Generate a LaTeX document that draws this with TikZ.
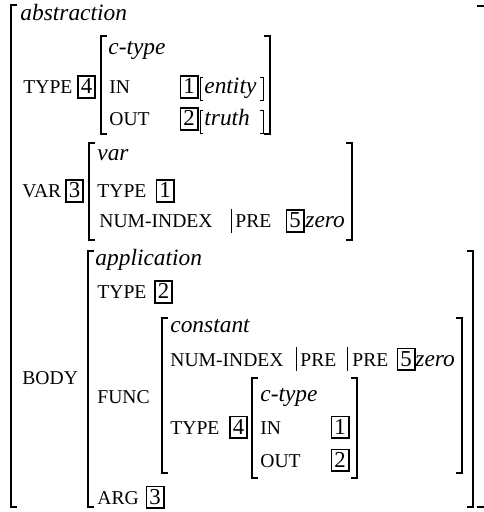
\documentclass[tikz,border=0pt]{standalone}
\usepackage{fontspec}
\setmainfont{Liberation Serif}
\usepackage{tikz}

\tikzset{
  feat/.style={anchor=base west, inner sep=0pt, font=\fontsize{9.8}{11}\selectfont},
  typ/.style={anchor=base west, inner sep=0pt, font=\fontsize{11.7}{14}\selectfont\itshape},
  tag/.style={draw, line width=0.9pt, anchor=base, inner xsep=0pt, inner ysep=0.4pt,
    minimum width=8.6pt, text height=8.4pt, text depth=1.6pt,
    font=\fontsize{11.4}{14}\selectfont},
  brak/.style={line width=0.6pt},
  thinbrak/.style={line width=0.4pt},
}

\begin{document}
\begin{tikzpicture}[x=0.5pt, y=-0.5pt]
    \useasboundingbox (0,0) rectangle (483,512);

    % Brackets: left x / right x / top / bottom
    \draw[brak] (17,5) -| (11,507) -- (17,507);
    \draw[brak] (477,6) -- (485,6);
    \draw[brak] (477,507) -- (485,507);
    \foreach \l/\r/\t/\b in {101/270/36/134, 89/352/143/240, 88/473/251/507,
                             162/462/318/473, 252/357/378/478} {
        \draw[brak] (\l+6,\t) -| (\l,\b) -- (\l+6,\b);
        \draw[brak] (\r-6,\t) -| (\r,\b) -- (\r-6,\b);
    }
    \foreach \t/\b in {77/100, 110/133} {
        \draw[thinbrak] (203,\t) -| (200,\b) -- (203,\b);
        \draw[thinbrak] (260,\t) -| (263,\b) -- (260,\b);
    }

    % abstraction
    \node[typ] (abs) at (20,21) {abstraction};
    \node[feat] (absT) at (23,94) {TYPE};
    \node[tag] (t4a) at (86.5,94) {4};
    \node[typ] (ct1) at (108,55) {c-type};
    \node[feat] (in1) at (109,94) {IN};
    \node[tag] (t1a) at (189,94) {1};
    \node[typ] (ent) at (204,94) {entity};
    \node[feat] (out1) at (109,126) {OUT};
    \node[tag] (t2a) at (189,126) {2};
    \node[typ] (tru) at (204,126) {truth};

    % var
    \node[feat] (var) at (22,198) {VAR};
    \node[tag] (t3a) at (74.5,198) {3};
    \node[typ] (varT) at (97,161) {var};
    \node[feat] (varTy) at (97,198) {TYPE};
    \node[tag] (t1b) at (165,198) {1};
    \node[feat] (ni1) at (99,228) {NUM-INDEX};
    \draw[thinbrak] (231,209) -- (231,233);
    \node[feat] (pre1) at (235,228) {PRE};
    \node[tag] (t5a) at (295,228) {5};
    \node[typ] (zero1) at (305,228) {zero};

    % body
    \node[feat] (body) at (22,384) {BODY};
    \node[typ] (app) at (95,266) {application};
    \node[feat] (appTy) at (97,299) {TYPE};
    \node[tag] (t2b) at (163.5,299) {2};
    \node[feat] (func) at (97,403) {FUNC};
    \node[typ] (con) at (170,332) {constant};
    \node[feat] (ni2) at (170,366) {NUM-INDEX};
    \draw[thinbrak] (296,347) -- (296,371);
    \node[feat] (pre2) at (300,366) {PRE};
    \draw[thinbrak] (347,347) -- (347,371);
    \node[feat] (pre3) at (352,366) {PRE};
    \node[tag] (t5b) at (406,366) {5};
    \node[typ] (zero2) at (415,366) {zero};
    \node[feat] (conTy) at (170,434) {TYPE};
    \node[tag] (t4b) at (238.5,434) {4};
    \node[typ] (ct2) at (260,401) {c-type};
    \node[feat] (in2) at (260,434) {IN};
    \node[tag] (t1c) at (340,434) {1};
    \node[feat] (out2) at (260,467) {OUT};
    \node[tag] (t2c) at (340,467) {2};
    \node[feat] (arg) at (97,504) {ARG};
    \node[tag] (t3b) at (155,504) {3};
\end{tikzpicture}
\end{document}
